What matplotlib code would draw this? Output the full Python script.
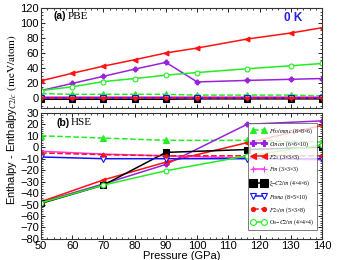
import matplotlib
matplotlib.use("Agg")
import matplotlib.pyplot as plt
from matplotlib.ticker import MultipleLocator

plt.rcParams['font.family'] = ['Liberation Sans', 'DejaVu Sans']
plt.rcParams['mathtext.fontset'] = 'stix'

# pressures (GPa)
p_pbe = [50, 60, 70, 80, 90, 100, 116, 130, 140]
p_hse = [50, 70, 90, 116, 140]

# PBE enthalpies relative to C2/c (meV/atom)
p63_pbe = [6, 5, 5, 5, 5, 4, 4, 4, 3]
cmcm_pbe = [10, 19.5, 29, 38.5, 47.5, 21.5, 23.5, 25, 26]
p21_pbe = [23, 33, 42.5, 51, 60, 66.5, 78.5, 86.5, 93.5]
pm_pbe = [1, 1, 1, 1, 1, 1, 1, 1, 1]
xi_pbe = [-1.5, -1.5, -1.5, -1.5, -1.5, -1, -1, -1, -1]
pnma_pbe = [-0.5, -0.5, -0.5, -0.5, -0.5, -0.5, -0.5, -0.5, -0.5]
p21m_pbe = [0, 0, 0, 0, 0, 0, 0, 0, 0]
o8_pbe = [10, 15, 22, 26, 30.5, 34, 39, 43, 46]

# HSE enthalpies relative to C2/c (meV/atom)
p63_hse = [10, 8, 6, 6, 4.5]
cmcm_hse = [-48, -32, -15, 20, 23]
p21_hse = [-47.5, -28.5, -13, 4, 19]
pm_hse = [-3.5, -6, -7.5, -9.5, -11]
xi_hse = [-49, -33, -4.5, -2, 0]
pnma_hse = [-8.5, -10, -10, -10, -10]
p21m_hse = [-5, -6.5, -7.5, -7.5, -7.5]
o8_hse = [-48.5, -33, -20.5, -7.5, 2]

labels = [r'$P6_3/mmc$ (8×8×6)', r'$Cmcm$ (6×6×10)', r'$P2_1$ (3×3×3)',
          r'$Pm$ (3×3×3)', r'ξ−$C2/m$ (4×4×6)', r'$Pnma$ (8×5×10)',
          r'$P2_1/m$ (5×3×8)', r'O$_8$−$C2/m$ (4×4×4)']

styles = [
    dict(color='#22ee22', ls='--', marker='^', ms=4, mfc='#22ee22'),
    dict(color='#9922dd', ls='-', marker='P', ms=3.5, mfc='#9922dd'),
    dict(color='#ff1111', ls='-', marker='<', ms=3.5, mfc='#ff1111'),
    dict(color='#ff33ff', ls='-', marker='+', ms=3.5, mfc='#ff33ff'),
    dict(color='black', ls='-', marker='s', ms=4.5, mfc='black'),
    dict(color='#1111ff', ls='-', marker='v', ms=4, mfc='white'),
    dict(color='#ff1111', ls='--', marker='o', ms=2.5, mfc='#ff1111'),
    dict(color='#22ee22', ls='-', marker='o', ms=3.5, mfc='white'),
]

pbe = [p63_pbe, cmcm_pbe, p21_pbe, pm_pbe, xi_pbe, pnma_pbe, p21m_pbe, o8_pbe]
hse = [p63_hse, cmcm_hse, p21_hse, pm_hse, xi_hse, pnma_hse, p21m_hse, o8_hse]

fig = plt.figure(figsize=(3.39, 2.60), dpi=100)
ax1 = fig.add_axes([0.121, 0.585, 0.829, 0.385])
ax2 = fig.add_axes([0.121, 0.081, 0.829, 0.485])

for ys, st in zip(pbe, styles):
    ax1.plot(p_pbe, ys, lw=1.1, mew=0.8, **st)
for ys, st, lab in zip(hse, styles, labels):
    ax2.plot(p_hse, ys, lw=1.1, mew=0.8, label=lab, **st)

for ax in (ax1, ax2):
    ax.set_xlim(50, 140)
    ax.xaxis.set_major_locator(MultipleLocator(10))
    ax.xaxis.set_minor_locator(MultipleLocator(2))
    ax.tick_params(which='both', direction='in', top=True, right=True, labelsize=8, pad=1.5)
    ax.tick_params(which='major', length=3, width=0.6)
    ax.tick_params(which='minor', length=1.5, width=0.5)
    for s in ax.spines.values():
        s.set_linewidth(0.8)
        s.set_color('#333333')

ax1.set_ylim(-13, 120)
ax1.yaxis.set_major_locator(MultipleLocator(20))
ax1.yaxis.set_minor_locator(MultipleLocator(5))
ax1.tick_params(labelbottom=False)

ax2.set_ylim(-80, 30)
ax2.yaxis.set_major_locator(MultipleLocator(10))
ax2.yaxis.set_minor_locator(MultipleLocator(2))
ax2.set_xlabel('Pressure (GPa)', fontsize=8, labelpad=0)

ax1.text(0.043, 0.915, '(a)', transform=ax1.transAxes, fontsize=7.5, fontweight='bold', va='center')
ax1.text(0.095, 0.915, 'PBE', transform=ax1.transAxes, fontsize=8, family='Liberation Serif', va='center')
ax2.text(0.055, 0.92, '(b)', transform=ax2.transAxes, fontsize=7.5, fontweight='bold', va='center')
ax2.text(0.105, 0.92, 'HSE', transform=ax2.transAxes, fontsize=8, family='Liberation Serif', va='center')
ax1.text(0.865, 0.90, '0 K', transform=ax1.transAxes, fontsize=8.5, fontweight='bold', color='#2222dd', va='center')

fig.text(0.034, 0.54, r'Enthalpy - Enthalpy$_{C2/c}$ $\mathrm{(meV/atom)}$', rotation=90,
         fontsize=8, va='center', ha='center')

leg = ax2.legend(loc='lower right', bbox_to_anchor=(0.993, 0.045),
                 prop={'family': 'Liberation Serif', 'size': 4.2}, numpoints=2,
                 markerscale=1.2, handlelength=2.6, labelspacing=0.55, borderpad=0.5,
                 handletextpad=0.5, frameon=True, fancybox=False, edgecolor='#444444')
leg.get_frame().set_linewidth(0.6)

fig.savefig('out.png', dpi=100)
